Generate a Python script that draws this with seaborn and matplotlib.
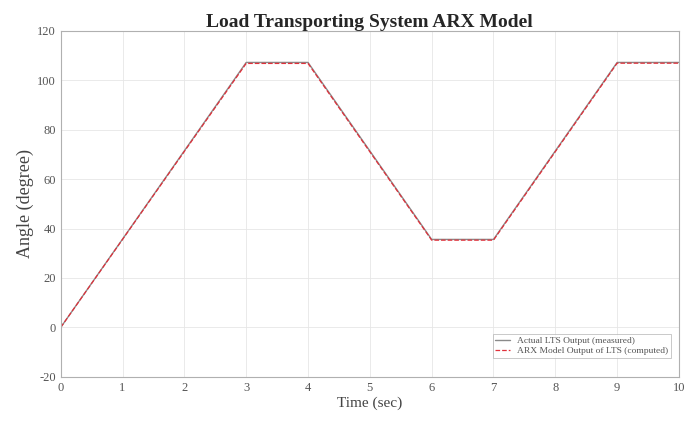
import numpy as np
import pandas as pd
import matplotlib
matplotlib.use("Agg")
import matplotlib.pyplot as plt
import seaborn as sns

# breakpoints
time_actual = [0, 3, 4, 6, 7, 9, 10]
angle_actual = [0, 107.2, 107.2, 35.6, 35.6, 107.2, 107.2]
time_model = [0, 3, 4, 6, 7, 9, 10]
angle_model = [0, 106.8, 106.8, 35.3, 35.3, 106.9, 106.9]

actual_label = "Actual LTS Output (measured)"
model_label = "ARX Model Output of LTS (computed)"

sns.set_style("whitegrid")
plt.rcParams['font.family'] = ['Liberation Serif', 'DejaVu Serif']
plt.rcParams['axes.unicode_minus'] = False

df_actual = pd.DataFrame({"Time": time_actual, "Angle": angle_actual})
df_model = pd.DataFrame({"Time": time_model, "Angle": angle_model})

fig = plt.figure(figsize=(6.9, 4.22), dpi=100)
ax = fig.add_axes([0.088, 0.107, 0.896, 0.82])

sns.lineplot(data=df_actual, x="Time", y="Angle", ax=ax, color="#8a8a8a",
             linewidth=1.0, label=actual_label)
sns.lineplot(data=df_model, x="Time", y="Angle", ax=ax, color="#e0303a",
             linewidth=0.9, linestyle="--", label=model_label)

ax.set_xlim(0, 10)
ax.set_ylim(-20, 120)
ax.set_xticks(range(0, 11))
ax.set_yticks(range(-20, 121, 20))
ax.grid(True, color="#e6e6e6", linewidth=0.6)
for s in ax.spines.values():
    s.set_color("#b0b0b0")
    s.set_linewidth(0.8)
ax.tick_params(direction="in", length=3, colors="#b0b0b0", labelcolor="#555555",
               labelsize=9)

ax.set_xlabel("Time (sec)", fontsize=11, color="#444444", labelpad=2)
ax.set_ylabel("Angle (degree)", fontsize=13, color="#444444", labelpad=2)
ax.set_title("Load Transporting System ARX Model", fontsize=14,
             fontweight="bold", pad=3)

leg = ax.legend(loc="lower right", bbox_to_anchor=(0.995, 0.04), fontsize=6.8,
                frameon=True, fancybox=False, borderpad=0.3, labelspacing=0.2,
                handlelength=1.5)
leg.get_frame().set_edgecolor("#b0b0b0")
leg.get_frame().set_linewidth(0.6)
for t in leg.get_texts():
    t.set_color("#555555")

fig.savefig("out.png", dpi=100)
